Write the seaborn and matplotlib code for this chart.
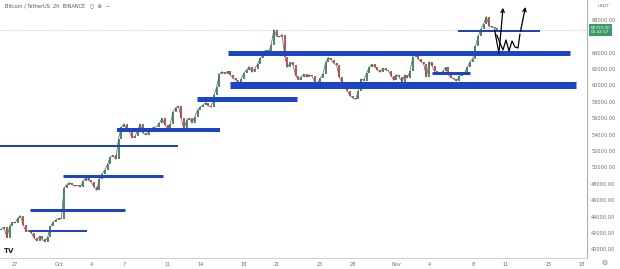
import numpy as np
import pandas as pd
import matplotlib
matplotlib.use("Agg")
import matplotlib.pyplot as plt
import seaborn as sns

# ---------------- data ----------------
# 6-hour closes, BTC/USDT, from Sep 25 (18:00) to Nov 10 (06:00), 2021
closes = [
    42500, 42700,                      # Sep 25
    41400, 42800, 43300, 43200,        # Sep 26
    43800, 44100, 43000, 42170,        # Sep 27
    42300, 42000, 41400, 41030,        # Sep 28
    41600, 41200, 40900, 41520,        # Sep 29
    42800, 43300, 43600, 43790,        # Sep 30
    43700, 47500, 47900, 48140,        # Oct 1
    47900, 47700, 47800, 47630,        # Oct 2
    48300, 48800, 48400, 48200,        # Oct 3
    47600, 47200, 48600, 49220,        # Oct 4
    49700, 50400, 51300, 51470,        # Oct 5
    51000, 53500, 54900, 55315,        # Oct 6
    54600, 54300, 53600, 53785,        # Oct 7
    54500, 55300, 54200, 53950,        # Oct 8
    54300, 54700, 54900, 54950,        # Oct 9
    55400, 56000, 55200, 54660,        # Oct 10
    55300, 56800, 57300, 57470,        # Oct 11
    56000, 54600, 55800, 56000,        # Oct 12
    55400, 56200, 57000, 57370,        # Oct 13
    57600, 57900, 57500, 57350,        # Oct 14
    58800, 59800, 61400, 61670,        # Oct 15
    61400, 61700, 61300, 60875,        # Oct 16
    60700, 59700, 60800, 61530,        # Oct 17
    61900, 62300, 61600, 62040,        # Oct 18
    62600, 63300, 63800, 64280,        # Oct 19
    64000, 64900, 66800, 66000,        # Oct 20
    65900, 66200, 63500, 62200,        # Oct 21
    62800, 62500, 61200, 60690,        # Oct 22
    61000, 61400, 61000, 61300,        # Oct 23
    61100, 60400, 60200, 60850,        # Oct 24
    61400, 62800, 63400, 63080,        # Oct 25
    62700, 62500, 61000, 60330,        # Oct 26
    60300, 59300, 58700, 58450,        # Oct 27
    58300, 59300, 60800, 60590,        # Oct 28
    61500, 62200, 62600, 62250,        # Oct 29
    61900, 61600, 62100, 61890,        # Oct 30
    61800, 61200, 60600, 61300,        # Oct 31
    61000, 60400, 61300, 60900,        # Nov 1
    61800, 63500, 63900, 63220,        # Nov 2
    62900, 62600, 61000, 62900,        # Nov 3
    62400, 61700, 61300, 61400,        # Nov 4
    61700, 62200, 61300, 60940,        # Nov 5
    60800, 60500, 61100, 61470,        # Nov 6
    61600, 62200, 62900, 63270,        # Nov 7
    64800, 66000, 66900, 67530,        # Nov 8
    68400, 67200, 67100, 66940,        # Nov 9
    66750,                             # Nov 10
]
first_open = 42300
first_day = -1.25          # days since Sep 27 of the first candle
step_days = 0.25

# horizontal zones (start day, end day, price, thickness px)
zone_start = [1.38, 1.38, 4.4, -1.4, 9.4, 16.7, 19.5, 19.7, 38.3, 40.6]
zone_end   = [6.6, 10.1, 13.6, 15.0, 18.8, 25.9, 50.9, 51.5, 41.7, 48.2]
zone_price = [42234, 44796, 48944, 52604, 54556, 58338, 63950, 60046, 61510, 66634]
zone_px    = [2, 3, 3, 2, 4, 5, 5, 7, 3, 2]

# projection arrows (days, price)
arrow_a_x = [44.0, 44.4, 44.8]
arrow_a_y = [66750, 63950, 69800]
arrow_b_x = [44.2, 44.77, 45.05, 45.32, 45.6, 45.87, 46.15, 46.33, 46.88]
arrow_b_y = [66150, 64316, 65536, 64194, 65414, 64682, 64560, 66268, 69900]

# axes
x_tick_days = [0, 4, 7, 10, 14, 17, 21, 24, 28, 31, 35, 38, 42, 45, 49, 52]
x_tick_labels = ["27", "Oct", "4", "7", "11", "14", "18", "21", "25", "28",
                 "Nov", "4", "8", "11", "15", "18"]
y_ticks = [40000, 42000, 44000, 46000, 48000, 50000, 52000, 54000, 56000,
           58000, 60000, 62000, 64000, 68000]
last_price = 66750
title_text = "Bitcoin / TetherUS  2h  BINANCE"

# ---------------- plot ----------------
sns.set_style("white")
plt.rcParams["font.family"] = ["DejaVu Sans"]

fig = plt.figure(figsize=(6.2, 2.69), dpi=100)
ax = fig.add_axes([0.0, 11 / 269, 587 / 620, 258 / 269])

days = [first_day + step_days * i for i in range(len(closes))]
opens = [first_open] + closes[:-1]
df = pd.DataFrame({"day": days, "open": opens, "close": closes})
df["lo"] = df[["open", "close"]].min(axis=1)
df["hi"] = df[["open", "close"]].max(axis=1)
df["up"] = df["close"] >= df["open"]

sns.lineplot(data=df, x="day", y="close", ax=ax, color="#5a5a5a", lw=0.5,
             zorder=2)
cols = np.where(df["up"], "#3d7f5a", "#b5463f")
ax.vlines(df["day"], df["lo"], df["hi"], colors=cols, lw=1.3, zorder=3)

# current price line
ax.axhline(last_price, color="#c8c8c8", lw=0.6, ls=(0, (1, 1)), zorder=1)

# zones
for xs, xe, p, w in zip(zone_start, zone_end, zone_price, zone_px):
    ax.hlines(p, xs, xe, colors="#1c45c6", lw=w * 0.72, zorder=4)

# arrows
ax.plot(arrow_a_x[:-1], arrow_a_y[:-1], color="black", lw=0.9, zorder=5)
ax.annotate("", xy=(arrow_a_x[-1], arrow_a_y[-1]),
            xytext=(arrow_a_x[-2], arrow_a_y[-2]),
            arrowprops=dict(arrowstyle="->", color="black", lw=0.9,
                            mutation_scale=6), zorder=5)
ax.plot(arrow_b_x[:-1], arrow_b_y[:-1], color="black", lw=0.9, zorder=5)
ax.annotate("", xy=(arrow_b_x[-1], arrow_b_y[-1]),
            xytext=(arrow_b_x[-2], arrow_b_y[-2]),
            arrowprops=dict(arrowstyle="->", color="black", lw=0.9,
                            mutation_scale=6), zorder=5)

ax.set_xlim(-1.376, 52.48)
ax.set_ylim(38940, 70416)

ax.set_xticks(x_tick_days)
ax.set_xticklabels(x_tick_labels)
ax.yaxis.tick_right()
ax.set_yticks(y_ticks)
ax.set_yticklabels([f"{v:.2f}" for v in y_ticks])
ax.tick_params(axis="both", length=0, labelsize=3.6, colors="#6b6b6b",
               pad=3)
ax.set_xlabel("")
ax.set_ylabel("")

for s in ["top", "left"]:
    ax.spines[s].set_visible(False)
ax.spines["right"].set_color("#b0b0b0")
ax.spines["right"].set_linewidth(0.8)
ax.spines["bottom"].set_color("#c8c8c8")
ax.spines["bottom"].set_linewidth(0.6)

# price label box
ax.text(1.006, last_price, f"{last_price:.2f}\n00:42:17",
        transform=ax.get_yaxis_transform(), fontsize=3.0, color="white",
        va="center", ha="left", linespacing=1.1,
        bbox=dict(boxstyle="square,pad=0.35", fc="#3c9a67", ec="none"))
fig.text(604 / 620, 1 - 6 / 269, "USDT", fontsize=3.2, color="#6b6b6b",
         ha="center", va="center")

# header / logos
fig.text(5 / 620, 1 - 6 / 269, title_text + "   \u25cb  \u2295  \u2014",
         fontsize=3.6, color="#555555", ha="left", va="center")
fig.text(4 / 620, 1 - 251 / 269, "TV", fontsize=5, fontweight="bold",
         color="#222222", ha="left", va="center")
fig.text(604 / 620, 1 - 263 / 269, "\u2699", fontsize=5, color="#777777",
         ha="center", va="center")

fig.savefig("out.png", dpi=100)
